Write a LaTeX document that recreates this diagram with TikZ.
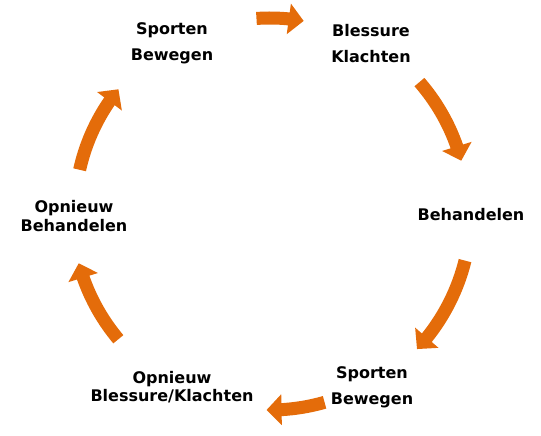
\documentclass[tikz,border=0pt]{standalone}
\usepackage{fontspec}
\setmainfont{DejaVu Sans}
\usetikzlibrary{arrows.meta,bending}
\definecolor{cyc}{HTML}{E46C0A}
\begin{document}
\begin{tikzpicture}[x=1pt,y=1pt,
  lbl/.style={font=\bfseries\fontsize{16}{26}\selectfont, align=center, inner sep=0pt},
  tight/.style={font=\bfseries\fontsize{16}{18.5}\selectfont},
  cyarrow/.style={draw=cyc, line width=13pt, -{Triangle[width=30pt,length=15pt]}}]
\useasboundingbox (0,0) rectangle (541,436);
\coordinate (C) at (270,224);
\node[lbl] (tl) at (172,392.5) {Sporten\\Bewegen};
\node[lbl] (tr) at (371,392) {Blessure\\Klachten};
\node[lbl] (r) at (471,221.5) {Behandelen};
\node[lbl] (br) at (372,48.5) {Sporten\\Bewegen};
\node[lbl,tight] (bl) at (172,49) {Opnieuw\\Blessure/Klachten};
\node[lbl,tight] (l) at (74,220) {Opnieuw\\Behandelen};
\draw[cyarrow] ([shift={(94:194)}]C) arc[start angle=94, end angle=80, radius=194];
\draw[cyarrow] ([shift={(41:198)}]C) arc[start angle=41, end angle=15, radius=198];
\draw[cyarrow] ([shift={(-14:201)}]C) arc[start angle=-14, end angle=-43, radius=201];
\draw[cyarrow] ([shift={(-74:198)}]C) arc[start angle=-74, end angle=-91, radius=198];
\draw[cyarrow] ([shift={(220:198)}]C) arc[start angle=220, end angle=195, radius=198];
\draw[cyarrow] ([shift={(167.5:195)}]C) arc[start angle=167.5, end angle=141, radius=195];
\end{tikzpicture}
\end{document}
